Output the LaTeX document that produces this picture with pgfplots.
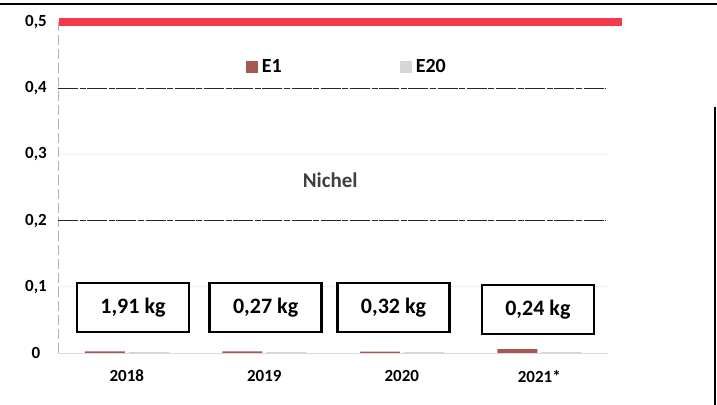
\documentclass[border=0pt]{standalone}
\usepackage{fontspec}
\setmainfont{Carlito}
\usepackage{pgfplots}
\pgfplotsset{compat=1.18}

\definecolor{limitred}{RGB}{244,58,74}
\definecolor{eone}{RGB}{165,88,84}
\definecolor{etwenty}{RGB}{214,214,214}

\begin{document}
\begin{tikzpicture}
\useasboundingbox (0,0) rectangle (358.5pt,202.5pt);
% scan frame
\draw[line width=1pt] (0,200.5pt) -- (358.5pt,200.5pt);
\draw[line width=0.8pt] (357.6pt,0) -- (357.6pt,149pt);

\begin{axis}[
  at={(29pt,26pt)}, anchor=south west,
  scale only axis, width=275pt, height=165.5pt,
  xmin=-0.5, xmax=3.5, ymin=0, ymax=0.5,
  clip=false,
  axis lines=left, axis line style={-},
  x axis line style={draw=gray!30},
  y axis line style={draw=gray!60, dash pattern=on 5pt off 2pt},
  major tick length=0pt,
  xtick={0,1,2,3}, xticklabels={2018,2019,2020,2021*},
  xticklabel style={font=\fontsize{8.5}{10}\selectfont\bfseries, yshift=-5pt},
  ytick={0,0.1,0.2,0.3,0.4,0.5},
  yticklabel style={font=\fontsize{8.5}{10}\selectfont\bfseries, anchor=center, xshift=-11pt},
  /pgf/number format/use comma,
  /pgf/number format/fixed,
  /pgf/number format/assume math mode=true,
  ymajorgrids, grid style={gray!12},
  legend style={at={(0.527,0.864)}, anchor=center, draw=none, fill=none,
    font=\fontsize{10}{12}\selectfont\bfseries, legend columns=2,
    /tikz/every even column/.append style={column sep=57pt}},
  legend cell align=left,
]
% limit and reference lines
\addplot[black!85, line width=0.6pt, dash pattern=on 10pt off 0.8pt on 3pt off 0.8pt, forget plot]
  coordinates {(-0.5,0.4) (3.48,0.4)};
\addplot[black!85, line width=0.6pt, dash pattern=on 10pt off 0.8pt on 3pt off 0.8pt, forget plot]
  coordinates {(-0.5,0.2) (3.48,0.2)};
\addplot[limitred, line width=3.8pt, forget plot]
  coordinates {(-0.49,0.5) (3.6,0.5)};

% E1 and E20 values (almost zero)
\addplot[ybar, bar width=20pt, bar shift=-11pt, fill=eone, draw=none, forget plot]
  coordinates {(0,0.0025) (1,0.0025) (2,0.002) (3,0.006)};
\addplot[ybar, bar width=20pt, bar shift=11pt, fill=etwenty, draw=none, forget plot]
  coordinates {(0,0.0012) (1,0.0012) (2,0.0012) (3,0.0012)};

\addlegendimage{legend image code/.code={\fill[eone] (0pt,-2.8pt) rectangle (5.6pt,2.8pt);}}
\addlegendentry{E1}
\addlegendimage{legend image code/.code={\fill[etwenty] (0pt,-2.8pt) rectangle (5.6pt,2.8pt);}}
\addlegendentry{E20}

\node[font=\fontsize{10.5}{12}\selectfont\bfseries, text=black!75]
  at (rel axis cs:0.495,0.523) {Nichel};

\tikzset{kgbox/.style={draw, line width=1.2pt, minimum width=56pt,
  minimum height=24.5pt, inner sep=0pt, fill=white,
  font=\fontsize{11}{13}\selectfont\bfseries}}
\node[kgbox] at (axis cs:0.045,0.0687) {1,91 kg};
\node[kgbox] at (axis cs:1.01,0.0687) {0,27 kg};
\node[kgbox] at (axis cs:1.94,0.0687) {0,32 kg};
\node[kgbox] at (axis cs:2.99,0.066) {0,24 kg};
\end{axis}
\end{tikzpicture}
\end{document}
